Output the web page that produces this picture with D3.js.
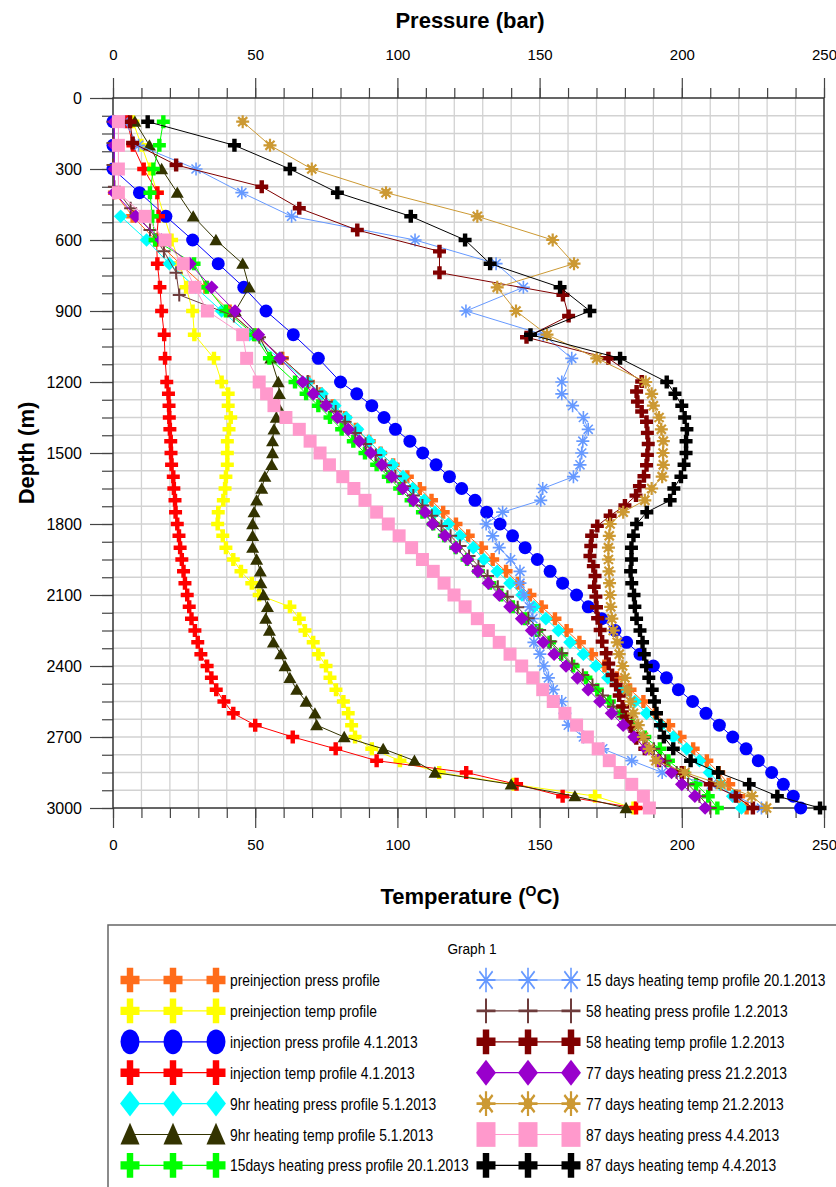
<!DOCTYPE html>
<html>
<head>
<meta charset="utf-8">
<script src="https://cdn.jsdelivr.net/npm/d3@7"></script>
<style>
  body { margin: 0; background: #fff; }
  text { font-family: "Liberation Sans", Arial, sans-serif; }
</style>
</head>
<body>
<div id="chart"></div>
<script>
/* Pressure and temperature logs versus depth */

// depth stations of most surveys (m)
const depthStd = [100,200,300,400,500,600,700,800,900,1000,1100,1200,1250,1300,1350,1400,1450,1500,1550,1600,1650,1700,1750,1800,1850,1900,1950,2000,2050,2100,2150,2200,2250,2300,2350,2400,2450,2500,2550,2600,2650,2700,2750,2800,2850,2900,2950,3000];
// depth stations of the 58 day survey (m)
const depth58 = [100,190,283,375,466,558,648,738,832,921,1011,1100,1198,1240,1283,1325,1368,1415,1462,1508,1552,1598,1640,1680,1722,1765,1808,1850,1893,1935,1978,2020,2065,2107,2152,2198,2248,2297,2346,2390,2438,2480,2525,2571,2614,2656,2705,2750,2800,2850,2900,2950,3000];

const preinjPress = [null,null,null,0.5,6.9,15,23.5,32.5,41,50,59.5,68.7,73,77.3,81.6,85.4,90.1,94.1,98.5,103.5,107.9,112,116.1,120.6,124.9,129.6,133.5,138.2,142.4,146.6,150.7,155.4,159.5,164,168.3,172.8,177.2,181.8,186.5,190.6,195.4,199.4,204,208.8,213,216.5,220,222.8];
const preinjTemp = [7,10,13,15.5,18,20.6,23.5,25.7,28,28.6,35.5,38.2,40.5,40.5,41.4,40.8,40.2,40.2,40.2,39.7,39.4,38.8,37,36.8,38.6,39.7,42.3,45,48.8,51.4,62.2,65.5,67.5,70.4,72.2,74.9,76.3,78.4,81,82.7,83.9,85.1,91,100.9,114.7,140.8,169.5,183];
const injPress = [0,0,0,9.3,18.6,28,37,46,53.8,63.4,72.2,80,85.7,91,95.3,99.3,104.4,108.9,113.6,118.3,122.6,127.3,131.4,136.1,140.5,144.9,149.2,153.7,158.1,163,167.1,171.8,176.5,180.6,185.3,190,194.6,198.8,203.8,208.5,213.2,217.9,222.6,226.9,231.6,235.7,239.2,241.8];
const injTemp = [5,7,10.8,15.6,16,15.3,15.6,16.5,17.1,18,18.3,18.9,19.5,19.7,19.8,20,20.3,20.4,20.6,21.2,21.4,21.8,22,22.6,23.2,23.6,24.2,24.8,25.3,26.1,26.8,27.6,28.8,29.8,30.9,33.1,34.6,36.3,39,42.3,50,63.2,78.3,92.7,124.2,141.9,158.1,183.9];
const hr9Press = [null,null,null,null,2.7,11.8,19.8,29,38.2,48,58.5,68.5,73.5,78,82,86,90,94.2,98.3,102,105.4,109.4,113.2,117.9,122,126.7,130.4,135.1,139.6,143.8,148,152.2,156.6,160.7,165.4,169.8,174,178.5,183.5,187.6,192.6,197,201.7,206.2,209.7,213.5,217.9,221];
const hr9Temp = [7.7,12.8,17.1,22.6,28.2,36.2,45.6,47.9,43,51,55.5,58.1,58.5,57.8,57.4,56.6,56.1,56.1,55.8,53.4,52.3,50.5,49.6,49.1,49.1,49.1,50.5,51.8,52,52.9,54.3,53.7,55,56.4,59,60.5,62.2,64.6,67.9,71,71.6,81.3,95,106,113.2,140,162.4,180.4];
const d15Press = [17.7,16.3,14.2,13,13.8,14.8,28.5,33,39.7,49.6,55,64,67.9,72.2,76.3,80.4,84.5,88.6,92.7,96.8,100.8,104.8,108.8,112.6,116.5,120.5,124.5,128.5,132.5,136.5,140.6,144.8,149,153.5,157.6,161.8,166.3,170.3,174.5,178.6,182.8,187,192.3,195.3,200.5,205,209.3,212.5];
const d15Temp = [4,9,29.2,45.3,62.8,106.2,134.7,144.3,124.1,151.3,161.3,157.8,157.8,161.6,165.4,167.1,165.2,164.8,164.2,161.9,151.1,150.4,137,131.2,133.5,135.8,139.8,143.1,143.1,144.5,146.4,147.6,147.8,148,150.1,151.5,153.1,154.8,157.8,158.9,160.1,165.4,172.2,182.4,193.1,210.5,219,228];
const d58Press = [0,0,0,0.5,6.2,13,17.9,22.2,23.3,42.5,51.5,59.5,68.5,71.7,75,78.3,81.6,85.2,88.8,92.4,95.8,99.3,102.5,105.6,108.8,112.1,115.5,118.7,122,125.2,128.5,131.7,135.3,138.7,142.3,146,150,153.9,157.8,161.4,165.2,168.6,172.2,175.9,179.3,182.7,186.6,190.2,194.2,198.2,202.2,206.2,210];
const d58Temp = [6,6.9,22.2,52.3,65.5,85.9,114.8,114.8,158.2,160.2,145.4,174.2,185.9,184.1,184.4,185.9,187.6,187.9,188.2,187.9,187.6,186.7,185.1,183.9,180,174.8,170.3,168.3,168,167.7,168.9,169.5,169.2,169.8,170,170.4,171.3,172,173.4,174.3,175.5,176.9,178,179.2,180.6,182,184,187,192,200,210,219,225];
const d77Press = [0.5,0.5,0.5,0.5,8,17,27,34.7,42.9,51.1,58.7,66.7,70.4,74.9,78.9,82.7,86.6,90.6,94.5,98,101.9,105.6,109.7,112.4,116.7,120.6,124.6,128.3,132,135.8,139.6,143.7,147.2,151.3,155.1,159.3,163.3,167.1,171.2,175.3,179.4,183.2,187.4,191.7,196.4,200,204.6,208.2];
const d77Temp = [45.6,55.2,69.9,96,128.1,154.6,162.1,135.1,141.7,152.6,170.1,187.3,189.4,190,192,192.8,193.5,193.4,193.5,193.1,189.4,187,179.4,174.8,174.5,174.2,174.2,174.4,174.6,174.8,175,175.4,175.9,177.3,178,179.2,180,180.8,182,183,184.7,186.5,188.5,190.9,201.1,213.7,224.6,229.8];
const d87Press = [1.9,1.9,1.9,1.9,11.3,18.3,24.7,28.8,33.2,45.6,47,51.4,54,56.6,60.8,65.5,69.3,72.8,76.1,80.8,84.7,88.6,92.7,96.8,100.6,105,108.8,112.6,116.4,119.9,123.8,128.1,132,135.8,139.6,143.7,147.6,151.1,154.8,158.9,163,166.8,170.6,174.5,178.3,182.4,186.5,188.6];
const d87Temp = [12.2,42.7,62.2,78.9,104.7,123.8,132.6,157.2,167.7,146.8,178.3,194.7,197.6,200,201,201.8,201.5,201.5,200.8,199.7,197.2,195.9,187.7,184.1,183,182.3,182.3,182,182.4,183.2,183.5,184.1,185.3,186.2,186.8,187.5,188.4,189.6,190.4,191.1,192.5,193.7,197,203.1,212.8,223.7,233.6,248.6];

const seriesNames = [
  "preinjection press profile", "preinjection temp profile",
  "injection press profile 4.1.2013", "injection temp profile 4.1.2013",
  "9hr heating press profile 5.1.2013", "9hr heating temp profile 5.1.2013",
  "15days heating press profile 20.1.2013", "15 days heating temp profile 20.1.2013",
  "58 heating press profile 1.2.2013", "58 heating temp profile 1.2.2013",
  "77 days heating press 21.2.2013", "77 days heating temp 21.2.2013",
  "87 days heating press 4.4.2013", "87 days heating temp 4.4.2013"
];

const xTicks = [0, 50, 100, 150, 200, 250];
const yTicks = [0, 300, 600, 900, 1200, 1500, 1800, 2100, 2400, 2700, 3000];

// series table built from the arrays above (drawing order = legend order)
const series = [
  { values: preinjPress, depths: depthStd, color: "#ff6c1a", mark: "plus" },
  { values: preinjTemp,  depths: depthStd, color: "#ffff00", mark: "plus" },
  { values: injPress,    depths: depthStd, color: "#0000ff", mark: "circle" },
  { values: injTemp,     depths: depthStd, color: "#ff0000", mark: "plus" },
  { values: hr9Press,    depths: depthStd, color: "#00ffff", mark: "diamond" },
  { values: hr9Temp,     depths: depthStd, color: "#333300", mark: "triangle" },
  { values: d15Press,    depths: depthStd, color: "#00ff00", mark: "plus" },
  { values: d15Temp,     depths: depthStd, color: "#6699ff", mark: "star" },
  { values: d58Press,    depths: depth58,  color: "#6e3c3c", mark: "thinplus" },
  { values: d58Temp,     depths: depth58,  color: "#800000", mark: "plus" },
  { values: d77Press,    depths: depthStd, color: "#9900cc", mark: "diamond" },
  { values: d77Temp,     depths: depthStd, color: "#cc9933", mark: "sun" },
  { values: d87Press,    depths: depthStd, color: "#ff99cc", mark: "square" },
  { values: d87Temp,     depths: depthStd, color: "#000000", mark: "plus" }
].map((s, i) => ({
  ...s,
  name: seriesNames[i],
  points: s.values.map((v, j) => ({ v: v, d: s.depths[j] })).filter(p => p.v != null)
}));

const width = 836, height = 1187;

const svg = d3.select("#chart")
  .append("svg")
  .attr("width", width)
  .attr("height", height);

const x = d3.scaleLinear().domain([0, 250]).range([113, 824]);
const y = d3.scaleLinear().domain([0, 3000]).range([98, 808]);

// marker shapes, s = full width
function markPath(type, s) {
  const a = s / 2;
  if (type === "plus" || type === "thinplus") {
    if (type === "thinplus") return `M0,${-a}V${a}M${-a},0H${a}`;
    const b = s * 0.17;
    return `M${-b},${-a}H${b}V${-b}H${a}V${b}H${b}V${a}H${-b}V${b}H${-a}V${-b}H${-b}Z`;
  }
  if (type === "circle") return `M${a},0A${a},${a} 0 1,1 ${-a},0A${a},${a} 0 1,1 ${a},0Z`;
  if (type === "diamond") { const h = a * 1.05; return `M0,${-h}L${h},0L0,${h}L${-h},0Z`; }
  if (type === "triangle") return `M0,${-a * 0.95}L${a},${a * 0.8}L${-a},${a * 0.8}Z`;
  if (type === "square") return `M${-a},${-a}H${a}V${a}H${-a}Z`;
  const c = a * 0.7;
  let p = `M0,${-a}V${a}M${-a},0H${a}M${-c},${-c}L${c},${c}M${-c},${c}L${c},${-c}`;
  if (type === "sun") {
    const r = a * 0.35;
    p += `M${r},0A${r},${r} 0 1,1 ${-r},0A${r},${r} 0 1,1 ${r},0Z`;
  }
  return p;
}

function styleMark(sel, s) {
  const m = s.mark;
  if (m === "thinplus") sel.attr("fill", "none").attr("stroke", s.color).attr("stroke-width", 2);
  else if (m === "star") sel.attr("fill", "none").attr("stroke", s.color).attr("stroke-width", 1.6);
  else if (m === "sun") sel.attr("fill", s.color).attr("stroke", s.color).attr("stroke-width", 2.2);
  else sel.attr("fill", s.color).attr("stroke", "none");
}

// grid
svg.append("g")
  .selectAll("line")
  .data(d3.range(10, 250, 10))
  .join("line")
  .attr("x1", d => x(d)).attr("x2", d => x(d))
  .attr("y1", y(0)).attr("y2", y(3000))
  .attr("stroke", "#d2d2d2").attr("stroke-width", 1.3);

svg.append("g")
  .selectAll("line")
  .data(d3.range(75, 3000, 75))
  .join("line")
  .attr("x1", x(0)).attr("x2", x(250))
  .attr("y1", d => y(d)).attr("y2", d => y(d))
  .attr("stroke", "#d2d2d2").attr("stroke-width", 1.3);

// axes
function tidy(g) {
  g.select(".domain").remove();
  g.selectAll("line").attr("stroke", "#444").attr("stroke-width", 1.2);
  g.selectAll("text").attr("fill", "#000").style("font-size", "15px");
}
const plain = d3.format("d");

svg.append("g")
  .attr("transform", `translate(0,${y(0)})`)
  .call(d3.axisTop(x).tickValues(d3.range(0, 251, 10)).tickSize(10).tickFormat(""))
  .call(tidy);
svg.append("g")
  .attr("transform", `translate(0,${y(0)})`)
  .call(d3.axisTop(x).tickValues(xTicks).tickSize(20).tickPadding(18).tickFormat(plain))
  .call(tidy);

svg.append("g")
  .attr("transform", `translate(0,${y(3000)})`)
  .call(d3.axisBottom(x).tickValues(d3.range(0, 251, 10)).tickSize(10).tickFormat(""))
  .call(tidy);
svg.append("g")
  .attr("transform", `translate(0,${y(3000)})`)
  .call(d3.axisBottom(x).tickValues(xTicks).tickSize(20).tickPadding(11).tickFormat(plain))
  .call(tidy);

svg.append("g")
  .attr("transform", `translate(${x(0)},0)`)
  .call(d3.axisLeft(y).tickValues(d3.range(0, 3001, 75)).tickSize(11).tickFormat(""))
  .call(tidy);
svg.append("g")
  .attr("transform", `translate(${x(0)},0)`)
  .call(d3.axisLeft(y).tickValues(yTicks).tickSize(23).tickPadding(8).tickFormat(plain))
  .call(tidy)
  .call(g => g.selectAll("text").style("font-size", "16px"));

// frame
svg.append("rect")
  .attr("x", x(0)).attr("y", y(0))
  .attr("width", x(250) - x(0)).attr("height", y(3000) - y(0))
  .attr("fill", "none").attr("stroke", "#333").attr("stroke-width", 1.5);

// titles
svg.append("text")
  .attr("x", 470).attr("y", 28)
  .attr("text-anchor", "middle")
  .style("font-size", "22px").style("font-weight", "bold")
  .text("Pressure (bar)");

const tt = svg.append("text")
  .attr("x", 470).attr("y", 904)
  .attr("text-anchor", "middle")
  .style("font-size", "22px").style("font-weight", "bold");
tt.append("tspan").text("Temperature (");
tt.append("tspan").attr("dy", -8).style("font-size", "14px").text("O");
tt.append("tspan").attr("dy", 8).text("C)");

svg.append("text")
  .attr("transform", "translate(34,453) rotate(-90)")
  .attr("text-anchor", "middle")
  .style("font-size", "22px").style("font-weight", "bold")
  .text("Depth (m)");

// series
const line = d3.line().x(p => x(p.v)).y(p => y(p.d));

const plot = svg.append("g");
series.forEach(s => {
  const g = plot.append("g");
  g.append("path")
    .attr("d", line(s.points))
    .attr("fill", "none")
    .attr("stroke", s.color)
    .attr("stroke-width", 1);
  g.selectAll("path.mk")
    .data(s.points)
    .join("path")
    .attr("class", "mk")
    .attr("transform", p => `translate(${x(p.v)},${y(p.d)})`)
    .attr("d", markPath(s.mark, 13))
    .call(sel => styleMark(sel, s));
});

// legend
const leg = svg.append("g");
leg.append("rect")
  .attr("x", 108).attr("y", 925)
  .attr("width", 800).attr("height", 300)
  .attr("fill", "#fff").attr("stroke", "#666").attr("stroke-width", 1.5);
leg.append("text")
  .attr("transform", "translate(472,954) scale(0.88,1)")
  .attr("text-anchor", "middle")
  .style("font-size", "15.5px")
  .text("Graph 1");

series.forEach((s, i) => {
  const col = i < 7 ? 0 : 1, row = i % 7;
  const cx = col === 0 ? [130, 173, 216] : [486, 528, 571];
  const ty = 980 + row * 30.9;
  const g = leg.append("g");
  g.append("line")
    .attr("x1", cx[0]).attr("x2", cx[2])
    .attr("y1", ty).attr("y2", ty)
    .attr("stroke", s.color).attr("stroke-width", 1.2);
  g.selectAll("path")
    .data(cx)
    .join("path")
    .attr("transform", d => `translate(${d},${ty}) scale(1,1.3)`)
    .attr("d", markPath(s.mark, 19))
    .call(sel => styleMark(sel, s));
  g.append("text")
    .attr("transform", `translate(${col === 0 ? 230 : 586},${ty + 6}) scale(0.84,1)`)
    .style("font-size", "16.5px")
    .text(s.name);
});
</script>
</body>
</html>
